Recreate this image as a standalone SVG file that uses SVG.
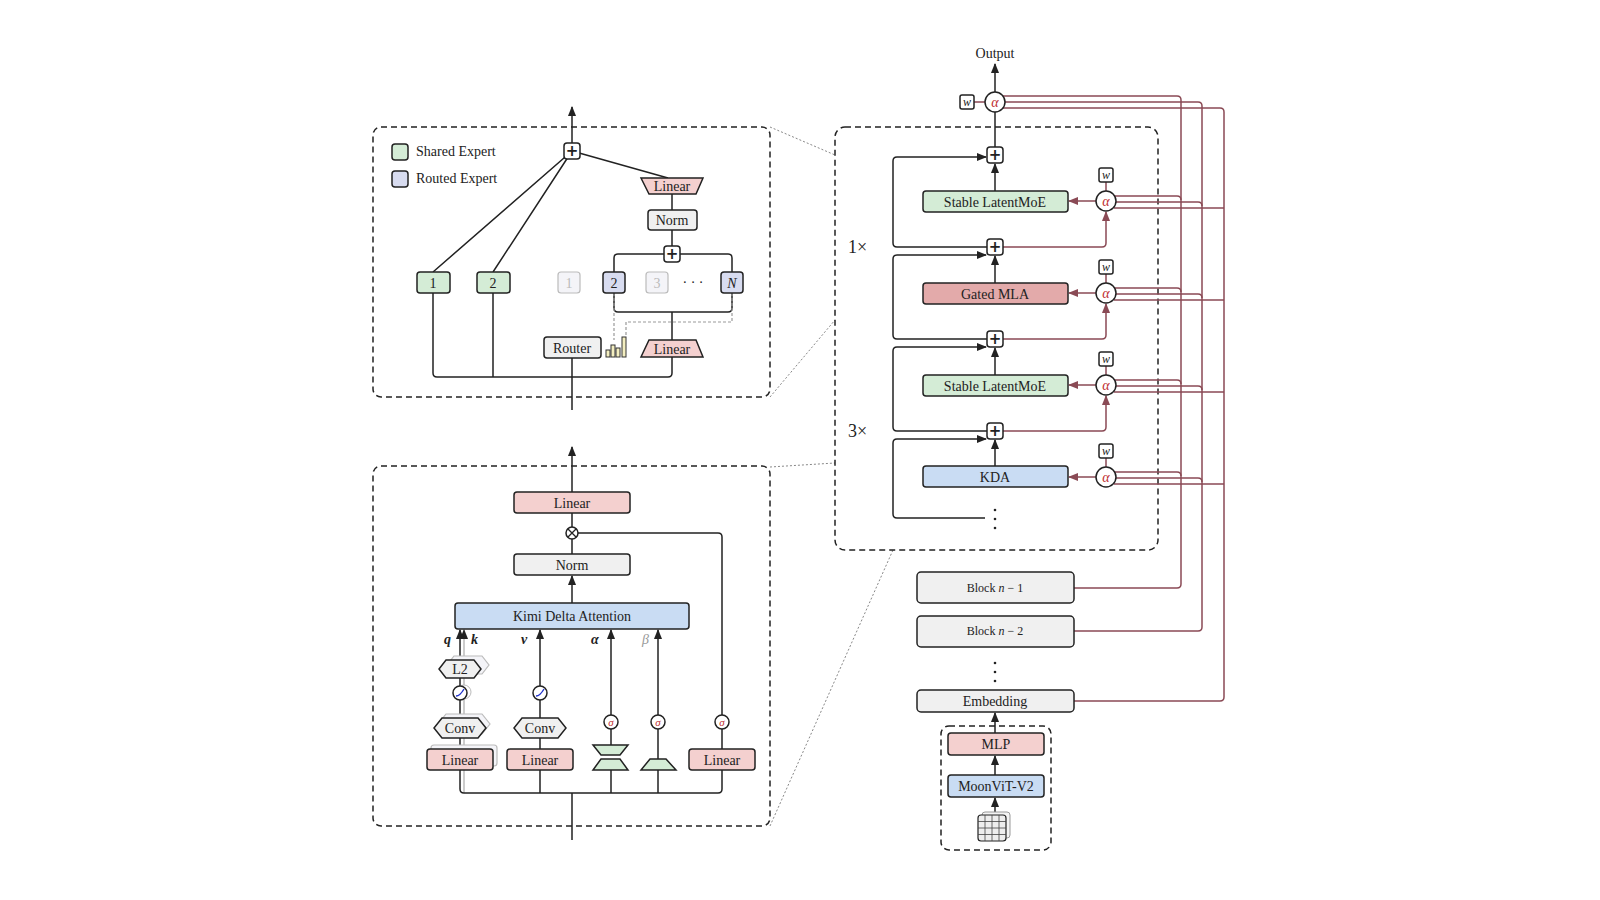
<svg xmlns="http://www.w3.org/2000/svg" width="1600" height="900" viewBox="0 0 1600 900">
<defs>
<marker id="ah" viewBox="0 0 10 10" refX="9" refY="5" markerWidth="7" markerHeight="7" orient="auto-start-reverse"><path d="M0,1 L10,5 L0,9 z" fill="#222"/></marker>
<marker id="ahr" viewBox="0 0 10 10" refX="9" refY="5" markerWidth="7" markerHeight="7" orient="auto-start-reverse"><path d="M0,1 L10,5 L0,9 z" fill="#8a4a55"/></marker>
<style>
text{font-family:"Liberation Serif","DejaVu Serif",serif;fill:#222;font-size:14px}
.c{text-anchor:middle}
.ln{fill:none;stroke:#222;stroke-width:1.5}
.rl{fill:none;stroke:#8a4a55;stroke-width:1.5}
.dash{fill:none;stroke:#222;stroke-width:1.5;stroke-dasharray:6 4}
.dot{fill:none;stroke:#888;stroke-width:1;stroke-dasharray:2 2}
.box{stroke:#222;stroke-width:1.5}
.g{fill:#d4ecd6}.b{fill:#d8dcf0}.p{fill:#f4d0cf}.w{fill:#f0f0f0}.bl{fill:#c9dcf3}.m{fill:#e3aaaa}
.gh{fill:#f4f4f8;stroke:#bbb;stroke-width:1.2}
</style>
</defs>
<rect width="1600" height="900" fill="#fff"/>

<!-- zoom lines -->
<g id="zoomlines">
<path class="dot" d="M770,127 L835,155 M770,397 L835,320 M770,467 L835,463 M770,826 L893,550"/>
</g>

<!-- Upper-left MoE panel -->
<g id="moe-panel">
<rect class="dash" x="373" y="127" width="397" height="270" rx="8"/>
<rect class="box g" x="392" y="144" width="16" height="16" rx="3"/>
<text x="416" y="156">Shared Expert</text>
<rect class="box b" x="392" y="171" width="16" height="16" rx="3"/>
<text x="416" y="183">Routed Expert</text>
</g>
<g id="moe-connectors">
<path class="ln" d="M572,143 L572,107" marker-end="url(#ah)"/>
<path class="ln" d="M572,151 L433,272 M572,151 L493,272 M572,151 L668,178"/>
<path class="ln" d="M672,194 L672,210 M672,230 L672,246"/>
<path class="ln" d="M614,272 L614,258 Q614,254 618,254 L728,254 Q732,254 732,258 L732,272"/>
<path class="ln" d="M614,293 L614,308 Q614,312 618,312 L728,312 Q732,312 732,308 L732,293 M672,312 L672,340"/>
<path class="ln" d="M433,293 L433,373 Q433,377 437,377 L668,377 Q672,377 672,373 L672,357 M493,293 L493,377 M572,358 L572,410"/>
<path d="M614,293 L614,340 M732,293 L732,322 L626,322 L626,336" fill="none" stroke="#999" stroke-width="1.2" stroke-dasharray="3 2"/>
</g>
<g id="moe-plus"><rect class="box" x="564" y="143" width="16" height="16" rx="3" fill="#fff"/><text class="c" x="572" y="156" style="font-size:15px;font-weight:bold;font-family:'DejaVu Sans',sans-serif">+</text></g>
<g id="moe-plus2"><rect class="box" x="664" y="246" width="16" height="16" rx="3" fill="#fff"/><text class="c" x="672" y="259" style="font-size:15px;font-weight:bold;font-family:'DejaVu Sans',sans-serif">+</text></g>
<g id="moe-linear-top"><path class="box p" d="M641,178 L703,178 L696,194 L649,194 z"/><text class="c" x="672" y="191">Linear</text></g>
<g id="moe-norm"><rect class="box w" x="648" y="210" width="49" height="20" rx="3"/><text class="c" x="672" y="225">Norm</text></g>
<g id="se1"><rect class="box g" x="417" y="272" width="33" height="21" rx="3"/><text class="c" x="433" y="288">1</text></g>
<g id="se2"><rect class="box g" x="477" y="272" width="33" height="21" rx="3"/><text class="c" x="493" y="288">2</text></g>
<g id="re1"><rect class="gh" x="558" y="272" width="22" height="21" rx="3"/><text class="c" x="569" y="288" style="fill:#bbb">1</text></g>
<g id="re2"><rect class="box b" x="603" y="272" width="22" height="21" rx="3"/><text class="c" x="614" y="288">2</text></g>
<g id="re3"><rect class="gh" x="646" y="272" width="22" height="21" rx="3"/><text class="c" x="657" y="288" style="fill:#bbb">3</text></g>
<text class="c" x="693" y="287">· · ·</text>
<g id="reN"><rect class="box b" x="721" y="272" width="22" height="21" rx="3"/><text class="c" x="732" y="288" font-style="italic">N</text></g>
<g id="router"><rect class="box w" x="544" y="337" width="57" height="21" rx="3"/><text class="c" x="572" y="353">Router</text></g>
<g id="bars" fill="#f3eec0" stroke="#333" stroke-width="1">
<rect x="606" y="350" width="4" height="7"/><rect x="611" y="345" width="4" height="12"/><rect x="616" y="348" width="4" height="9"/><rect x="622" y="337" width="4" height="20"/>
</g>
<g id="moe-linear-bot"><path class="box p" d="M649,340 L696,340 L703,357 L641,357 z"/><text class="c" x="672" y="354">Linear</text></g>

<!-- Lower-left KDA panel -->
<g id="kda-panel"><rect class="dash" x="373" y="466" width="397" height="360" rx="8"/></g>
<g id="kda-connectors">
<path class="ln" d="M572,492 L572,447" marker-end="url(#ah)"/>
<path class="ln" d="M572,513 L572,527 M572,539 L572,554"/>
<path class="ln" d="M578,533 L718,533 Q722,533 722,537 L722,715 M722,729 L722,749"/>
<path class="ln" d="M572,603 L572,576" marker-end="url(#ah)"/>
<path d="M464,793 L464,630" fill="none" stroke="#bbb" stroke-width="1.5" marker-end="url(#ah)"/>
<path class="ln" d="M460,749 L460,630" marker-end="url(#ah)"/>
<path class="ln" d="M540,749 L540,630" marker-end="url(#ah)"/>
<path class="ln" d="M611,745 L611,630" marker-end="url(#ah)"/>
<path class="ln" d="M658,759 L658,630" marker-end="url(#ah)"/>
<path class="ln" d="M460,770 L460,789 Q460,793 464,793 L718,793 Q722,793 722,789 L722,770 M540,770 L540,793 M611,770 L611,793 M658,770 L658,793 M572,793 L572,840"/>
</g>
<g id="kda-linear-out"><rect class="box p" x="514" y="492" width="116" height="21" rx="3"/><text class="c" x="572" y="508">Linear</text></g>
<g id="kda-otimes"><circle class="box" cx="572" cy="533" r="6" fill="#fff"/><path d="M568,529 L576,537 M576,529 L568,537" stroke="#222" stroke-width="1.3"/></g>
<g id="kda-norm"><rect class="box w" x="514" y="554" width="116" height="21" rx="3"/><text class="c" x="572" y="570">Norm</text></g>
<g id="kda"><rect class="box bl" x="455" y="603" width="234" height="26" rx="3"/><text class="c" x="572" y="621">Kimi Delta Attention</text></g>
<text x="444" y="644" font-weight="bold" font-style="italic">q</text>
<text x="471" y="644" font-weight="bold" font-style="italic">k</text>
<text x="521" y="644" font-weight="bold" font-style="italic">v</text>
<text x="591" y="644" font-weight="bold" font-style="italic">α</text>
<text x="642" y="644" font-style="italic" style="fill:#999">β</text>
<g id="l2">
<path class="gh" d="M450,660 L478,660 L485,669 L478,678 L450,678 L443,669 z" transform="translate(4,-4)"/>
<path class="box w" d="M446,660 L474,660 L481,669 L474,678 L446,678 L439,669 z"/><text class="c" x="460" y="674">L2</text></g>
<g id="act-qk"><circle cx="464" cy="692" r="7" fill="#fff" stroke="#bbb"/><circle class="box" cx="460" cy="693" r="7" fill="#fff"/><path d="M456,696 Q460,696 464,689" stroke="#2233cc" stroke-width="1.4" fill="none"/></g>
<g id="conv-qk">
<path class="gh" d="M442,718 L478,718 L486,728 L478,738 L442,738 L434,728 z" transform="translate(4,-4)"/>
<path class="box w" d="M442,718 L478,718 L486,728 L478,738 L442,738 L434,728 z"/><text class="c" x="460" y="733">Conv</text></g>
<g id="lin-qk"><rect class="gh" x="431" y="745" width="66" height="21" rx="3"/><rect class="box p" x="427" y="749" width="66" height="21" rx="3"/><text class="c" x="460" y="765">Linear</text></g>
<g id="act-v"><circle class="box" cx="540" cy="693" r="7" fill="#fff"/><path d="M536,696 Q540,696 544,689" stroke="#2233cc" stroke-width="1.4" fill="none"/></g>
<g id="conv-v"><path class="box w" d="M522,718 L558,718 L566,728 L558,738 L522,738 L514,728 z"/><text class="c" x="540" y="733">Conv</text></g>
<g id="lin-v"><rect class="box p" x="507" y="749" width="66" height="21" rx="3"/><text class="c" x="540" y="765">Linear</text></g>
<g id="sig-a"><circle class="box" cx="611" cy="722" r="7" fill="#fff"/><text class="c" x="611" y="726" font-style="italic" style="fill:#c03030;font-size:11px">σ</text></g>
<g id="hour-a"><path class="box g" d="M593,745 L628,745 L620,755 L601,755 z"/><path class="box g" d="M601,759 L620,759 L628,770 L593,770 z"/></g>
<g id="sig-b"><circle class="box" cx="658" cy="722" r="7" fill="#fff"/><text class="c" x="658" y="726" font-style="italic" style="fill:#c03030;font-size:11px">σ</text></g>
<g id="tri-b"><path class="box g" d="M650,759 L666,759 L676,770 L641,770 z"/></g>
<g id="sig-g"><circle class="box" cx="722" cy="722" r="7" fill="#fff"/><text class="c" x="722" y="726" font-style="italic" style="fill:#c03030;font-size:11px">σ</text></g>
<g id="lin-g"><rect class="box p" x="689" y="749" width="66" height="21" rx="3"/><text class="c" x="722" y="765">Linear</text></g>

<!-- Right stack -->
<g id="main-panel"><rect class="dash" x="835" y="127" width="323" height="423" rx="10"/></g>
<text x="848" y="253" style="font-size:18px">1×</text>
<text x="848" y="437" style="font-size:18px">3×</text>

<g id="stack-connectors">
<path class="ln" d="M995,92 L995,64" marker-end="url(#ah)"/>
<path class="ln" d="M995,112 L995,147"/>
<path class="ln" d="M995,191 L995,164" marker-end="url(#ah)"/>
<path class="ln" d="M995,283 L995,256" marker-end="url(#ah)"/>
<path class="ln" d="M995,375 L995,348" marker-end="url(#ah)"/>
<path class="ln" d="M995,466 L995,440" marker-end="url(#ah)"/>
<path class="ln" d="M987,247 L897,247 Q893,247 893,243 L893,161 Q893,157 897,157 L986,157" marker-end="url(#ah)"/>
<path class="ln" d="M987,339 L897,339 Q893,339 893,335 L893,259 Q893,255 897,255 L986,255" marker-end="url(#ah)"/>
<path class="ln" d="M987,431 L897,431 Q893,431 893,427 L893,351 Q893,347 897,347 L986,347" marker-end="url(#ah)"/>
<path class="ln" d="M985,518 L897,518 Q893,518 893,514 L893,443 Q893,439 897,439 L986,439" marker-end="url(#ah)"/>
<path class="rl" d="M1003,247 L1102,247 Q1106,247 1106,243 L1106,212" marker-end="url(#ahr)"/>
<path class="rl" d="M1003,339 L1102,339 Q1106,339 1106,335 L1106,304" marker-end="url(#ahr)"/>
<path class="rl" d="M1003,431 L1102,431 Q1106,431 1106,427 L1106,396" marker-end="url(#ahr)"/>
<path class="rl" d="M1096,201 L1069,201" marker-end="url(#ahr)"/>
<path class="rl" d="M1096,293 L1069,293" marker-end="url(#ahr)"/>
<path class="rl" d="M1096,385 L1069,385" marker-end="url(#ahr)"/>
<path class="rl" d="M1096,477 L1069,477" marker-end="url(#ahr)"/>
<path class="rl" d="M974,102 L985,102 M1106,182 L1106,191 M1106,274 L1106,283 M1106,366 L1106,375 M1106,458 L1106,467"/>
<!-- long verticals -->
<path class="rl" d="M1003,96 L1177,96 Q1181,96 1181,100 L1181,584 Q1181,588 1177,588 L1074,588"/>
<path class="rl" d="M1005,102 L1198,102 Q1202,102 1202,106 L1202,627 Q1202,631 1198,631 L1074,631"/>
<path class="rl" d="M1003,108 L1220,108 Q1224,108 1224,112 L1224,697 Q1224,701 1220,701 L1074,701"/>
<path class="rl" d="M1114,196 L1177,196 Q1181,196 1181,200 M1116,202 L1198,202 Q1202,202 1202,206 M1114,208 L1224,208"/>
<path class="rl" d="M1114,288 L1177,288 Q1181,288 1181,292 M1116,294 L1198,294 Q1202,294 1202,298 M1114,300 L1224,300"/>
<path class="rl" d="M1114,380 L1177,380 Q1181,380 1181,384 M1116,386 L1198,386 Q1202,386 1202,390 M1114,392 L1224,392"/>
<path class="rl" d="M1114,472 L1177,472 Q1181,472 1181,476 M1116,478 L1198,478 Q1202,478 1202,482 M1114,484 L1224,484"/>
<path class="ln" d="M995,739 L995,713" marker-end="url(#ah)"/>
<path class="ln" d="M995,775 L995,756" marker-end="url(#ah)"/>
<path class="ln" d="M995,814 L995,798" marker-end="url(#ah)"/>
</g>
<text class="c" x="995" y="58">Output</text>
<g id="alpha-out"><circle class="box" cx="995" cy="102" r="10" fill="#fff"/><text class="c" x="995" y="107" font-style="italic" style="fill:#c03030">α</text></g>
<g id="w-out"><rect class="box" x="960" y="95" width="14" height="14" rx="2" fill="#fff"/><text class="c" x="967" y="106" font-style="italic" style="font-size:12px">w</text></g>
<g id="plus1"><rect class="box" x="987" y="147" width="16" height="16" rx="3" fill="#fff"/><text class="c" x="995" y="160" style="font-size:15px;font-weight:bold;font-family:'DejaVu Sans',sans-serif">+</text></g>
<g id="plus2"><rect class="box" x="987" y="239" width="16" height="16" rx="3" fill="#fff"/><text class="c" x="995" y="252" style="font-size:15px;font-weight:bold;font-family:'DejaVu Sans',sans-serif">+</text></g>
<g id="plus3"><rect class="box" x="987" y="331" width="16" height="16" rx="3" fill="#fff"/><text class="c" x="995" y="344" style="font-size:15px;font-weight:bold;font-family:'DejaVu Sans',sans-serif">+</text></g>
<g id="plus4"><rect class="box" x="987" y="423" width="16" height="16" rx="3" fill="#fff"/><text class="c" x="995" y="436" style="font-size:15px;font-weight:bold;font-family:'DejaVu Sans',sans-serif">+</text></g>
<g id="moe1"><rect class="box g" x="923" y="191" width="145" height="21" rx="3"/><text class="c" x="995" y="207">Stable LatentMoE</text></g>
<g id="mla"><rect class="box m" x="923" y="283" width="145" height="21" rx="3"/><text class="c" x="995" y="299">Gated MLA</text></g>
<g id="moe2"><rect class="box g" x="923" y="375" width="145" height="21" rx="3"/><text class="c" x="995" y="391">Stable LatentMoE</text></g>
<g id="kdabox"><rect class="box bl" x="923" y="466" width="145" height="21" rx="3"/><text class="c" x="995" y="482">KDA</text></g>
<g id="vdots" fill="#222"><circle cx="995" cy="510" r="1.3"/><circle cx="995" cy="519" r="1.3"/><circle cx="995" cy="528" r="1.3"/></g>
<g id="a1"><circle class="box" cx="1106" cy="201" r="10" fill="#fff"/><text class="c" x="1106" y="206" font-style="italic" style="fill:#c03030">α</text><rect class="box" x="1099" y="168" width="14" height="14" rx="2" fill="#fff"/><text class="c" x="1106" y="179" font-style="italic" style="font-size:12px">w</text></g>
<g id="a2"><circle class="box" cx="1106" cy="293" r="10" fill="#fff"/><text class="c" x="1106" y="298" font-style="italic" style="fill:#c03030">α</text><rect class="box" x="1099" y="260" width="14" height="14" rx="2" fill="#fff"/><text class="c" x="1106" y="271" font-style="italic" style="font-size:12px">w</text></g>
<g id="a3"><circle class="box" cx="1106" cy="385" r="10" fill="#fff"/><text class="c" x="1106" y="390" font-style="italic" style="fill:#c03030">α</text><rect class="box" x="1099" y="352" width="14" height="14" rx="2" fill="#fff"/><text class="c" x="1106" y="363" font-style="italic" style="font-size:12px">w</text></g>
<g id="a4"><circle class="box" cx="1106" cy="477" r="10" fill="#fff"/><text class="c" x="1106" y="482" font-style="italic" style="fill:#c03030">α</text><rect class="box" x="1099" y="444" width="14" height="14" rx="2" fill="#fff"/><text class="c" x="1106" y="455" font-style="italic" style="font-size:12px">w</text></g>
<g id="blk1"><rect class="box w" x="917" y="572" width="157" height="31" rx="4"/><text class="c" x="995" y="592" style="font-size:12px">Block <tspan font-style="italic">n</tspan> − 1</text></g>
<g id="blk2"><rect class="box w" x="917" y="616" width="157" height="31" rx="4"/><text class="c" x="995" y="635" style="font-size:12px">Block <tspan font-style="italic">n</tspan> − 2</text></g>
<g id="vdots2" fill="#222"><circle cx="995" cy="663" r="1.3"/><circle cx="995" cy="672" r="1.3"/><circle cx="995" cy="681" r="1.3"/></g>
<g id="emb"><rect class="box w" x="917" y="690" width="157" height="22" rx="4"/><text class="c" x="995" y="706">Embedding</text></g>
<g id="vision"><rect class="dash" x="941" y="726" width="110" height="124" rx="8"/></g>
<g id="mlp"><rect class="box p" x="948" y="733" width="96" height="22" rx="3"/><text class="c" x="996" y="749">MLP</text></g>
<g id="vit"><rect class="box bl" x="948" y="775" width="96" height="22" rx="3"/><text class="c" x="996" y="791">MoonViT-V2</text></g>
<g id="img">
<rect x="982" y="812" width="28" height="26" rx="3" fill="#f4f4f4" stroke="#999"/>
<rect x="978" y="815" width="28" height="26" rx="3" fill="#eee" stroke="#222" stroke-width="1.2"/>
<path d="M985,815 V841 M992,815 V841 M999,815 V841 M978,821.5 H1006 M978,828 H1006 M978,834.5 H1006" stroke="#444" stroke-width="0.8"/>
</g>
</svg>
